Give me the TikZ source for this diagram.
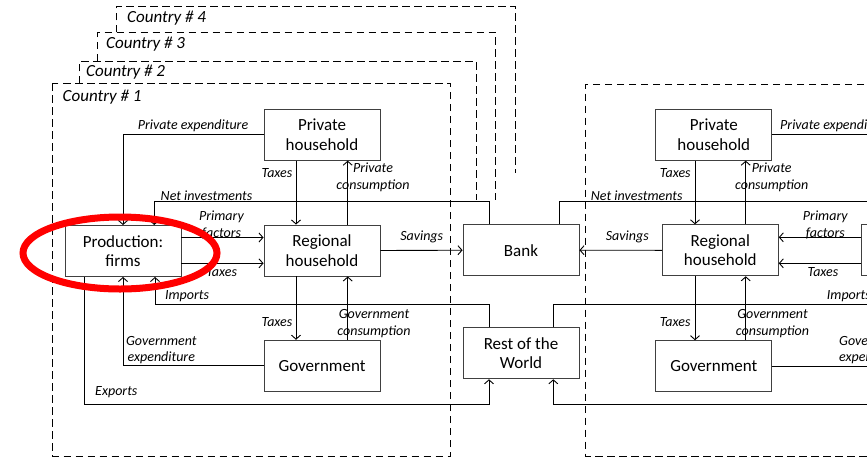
\documentclass[tikz,border=0pt]{standalone}
\usepackage{fontspec}
\setmainfont{Carlito}
\usetikzlibrary{arrows.meta,calc}

\begin{document}
\begin{tikzpicture}[x=1pt,y=-1pt,
    box/.style={draw=black!75, line width=0.9pt, fill=white, minimum width=116pt,
        minimum height=51pt, align=center, inner sep=2pt,
        font=\fontsize{17}{19.5}\selectfont},
    flow/.style={line width=0.9pt, -{Straight Barb[length=4pt,width=9pt]}},
    line/.style={line width=0.9pt},
    lbl/.style={font=\itshape\fontsize{14}{16.7}\selectfont, inner sep=0pt, align=center},
    country/.style={line width=1pt, dash pattern=on 7.5pt off 4.5pt},
    ctext/.style={font=\itshape\fontsize{17}{19}\selectfont, anchor=west, inner sep=0pt}]

    \useasboundingbox (0,0) rectangle (867,459);
    \clip (0,0) rectangle (867,459);

    % Levels of the long horizontal connectors
    \coordinate (ni) at (0,201.7);
    \coordinate (im) at (0,304);
    \coordinate (ex) at (0,404);

    % Country frames in the back, only the parts that show
    \draw[country] (116.7,32.3) |- (515,6) -- (515,173);
    \draw[country] (97.3,61) |- (495.7,32.3) -- (495.7,200);
    \draw[country] (79.3,83.3) |- (476,61) -- (476,200);
    \node[ctext] (c4) at (127,18) {Country \# 4};
    \node[ctext] (c3) at (106,44.5) {Country \# 3};
    \node[ctext] (c2) at (86,72.5) {Country \# 2};

    % Country 1 and the next country on the right
    \draw[country] (52.3,83.3) rectangle (450.7,456);
    \draw[country] (900,84) -| (585.7,456) -- (900,456);
    \node[ctext] (c1) at (62.5,97) {Country \# 1};

    % Agents of country 1
    \node[box] (ph1) at (322,134.7) {Private\\household};
    \node[box] (pf1) at (123,251) {Production:\\firms};
    \node[box] (rh1) at (322,250.5) {Regional\\household};
    \node[box] (gov1) at (322,365.7) {Government};

    % Shared agents in the middle
    \node[box] (bank) at (521,250.2) {Bank};
    \node[box] (row) at (521,353.3) {Rest of the\\World};

    % Agents of the next country (cut by the edge)
    \node[box] (ph2) at (713.8,134.7) {Private\\household};
    \node[box] (rh2) at (720.3,250.3) {Regional\\household};
    \node[box] (gov2) at (713.8,366.2) {Government};
    \node[box] (pf2) at (919.7,250.3) {};

    % Flows in country 1
    \draw[flow] (ph1.west) -| (pf1.north);
    \draw[flow] ([xshift=-26pt]ph1.south) -- ([xshift=-26pt]rh1.north);
    \draw[flow] ([xshift=25.7pt]rh1.north) -- ([xshift=25.7pt]ph1.south);
    \draw[flow] ([xshift=-32pt]bank.north) |- ([xshift=31.3pt]pf1.north |- ni)
        -- ([xshift=31.3pt]pf1.north);
    \draw[flow] ([yshift=13.5pt]pf1.east) -- ([yshift=13.5pt]pf1.east -| rh1.west);
    \draw[flow] ([yshift=-12.3pt]pf1.east) -- ([yshift=-12.3pt]pf1.east -| rh1.west);
    \draw[flow] (rh1.east) -- (bank.west);
    \draw[flow] ([xshift=-32pt]row.north) |- ([xshift=32pt]pf1.south |- im)
        -- ([xshift=32pt]pf1.south);
    \draw[flow] (gov1.west) -| (pf1.south);
    \draw[flow] ([xshift=-38.7pt]pf1.south) |- ([xshift=-32pt]row.south |- ex)
        -- ([xshift=-32pt]row.south);
    \draw[flow] ([xshift=-26pt]rh1.south) -- ([xshift=-26pt]gov1.north);
    \draw[flow] ([xshift=25.7pt]gov1.north) -- ([xshift=25.7pt]rh1.south);

    % Flows in the next country
    \draw[flow] (ph2.east) -| (pf2.north);
    \draw[flow] ([xshift=-18.8pt]ph2.south) -- ([xshift=-18.8pt]ph2.south |- rh2.north);
    \draw[flow] ([xshift=25.4pt]rh2.north) -- ([xshift=25.4pt]rh2.north |- ph2.south);
    \draw[flow] ([xshift=38.3pt]bank.north) |- ([xshift=-31.3pt]pf2.north |- ni)
        -- ([xshift=-31.3pt]pf2.north);
    \draw[flow] ([yshift=13pt]pf2.west) -- ([yshift=13pt]pf2.west -| rh2.east);
    \draw[flow] ([yshift=-13pt]pf2.west) -- ([yshift=-13pt]pf2.west -| rh2.east);
    \draw[flow] (rh2.west) -- (bank.east);
    \draw[flow] ([xshift=32.3pt]row.north) |- ([xshift=-32pt]pf2.south |- im)
        -- ([xshift=-32pt]pf2.south);
    \draw[flow] ([xshift=-25.3pt]rh2.south) -- ([xshift=-25.3pt]rh2.south |- gov2.north);
    \draw[flow] ([xshift=25.4pt]rh2.south |- gov2.north) -- ([xshift=25.4pt]rh2.south);
    \draw[flow] (gov2.east) -| (pf2.south);
    \draw[flow] ([xshift=38.7pt]pf2.south) |- ([xshift=32.3pt]row.south |- ex)
        -- ([xshift=32.3pt]row.south);

    % Labels of country 1
    \node[lbl] (l1pe) at (193,126) {Private expenditure};
    \node[lbl] (l1tx) at (277,173) {Taxes};
    \node[lbl] (l1pc) at (373,177) {Private\\consumption};
    \node[lbl] (l1ni) at (206.5,195.7) {Net investments};
    \node[lbl] (l1pf) at (221.5,225) {Primary\\factors};
    \node[lbl] (l1ft) at (221.7,271.7) {Taxes};
    \node[lbl] (l1sv) at (421.7,236.7) {Savings};
    \node[lbl] (l1im) at (187,296) {Imports};
    \node[lbl] (l1ge) at (161.3,350) {Government\\expenditure};
    \node[lbl] (l1ex) at (116.3,392.3) {Exports};
    \node[lbl] (l1gt) at (277,322.3) {Taxes};
    \node[lbl] (l1gc) at (374,323.5) {Government\\consumption};

    % Labels of the next country (cut by the edge, as in the source)
    \node[lbl, anchor=west] (l2pe) at (780,126) {Private expenditure};
    \node[lbl] (l2tx) at (675.3,173) {Taxes};
    \node[lbl] (l2pc) at (771.7,177) {Private\\consumption};
    \node[lbl] (l2ni) at (636.7,195.7) {Net investments};
    \node[lbl] (l2sv) at (627.3,236.7) {Savings};
    \node[lbl] (l2pf) at (825.3,225) {Primary\\factors};
    \node[lbl] (l2ft) at (823,271.7) {Taxes};
    \node[lbl, anchor=west] (l2im) at (826.7,296) {Imports};
    \node[lbl] (l2gt) at (675.2,322.3) {Taxes};
    \node[lbl] (l2gc) at (772.5,323.3) {Government\\consumption};
    \node[lbl, anchor=west, align=left] (l2ge) at (839,350) {Government\\expenditure};

    % Red mark round the firms of country 1
    \draw[red, line width=7pt] (120,253) ellipse [x radius=97pt, y radius=36pt];

\end{tikzpicture}
\end{document}
